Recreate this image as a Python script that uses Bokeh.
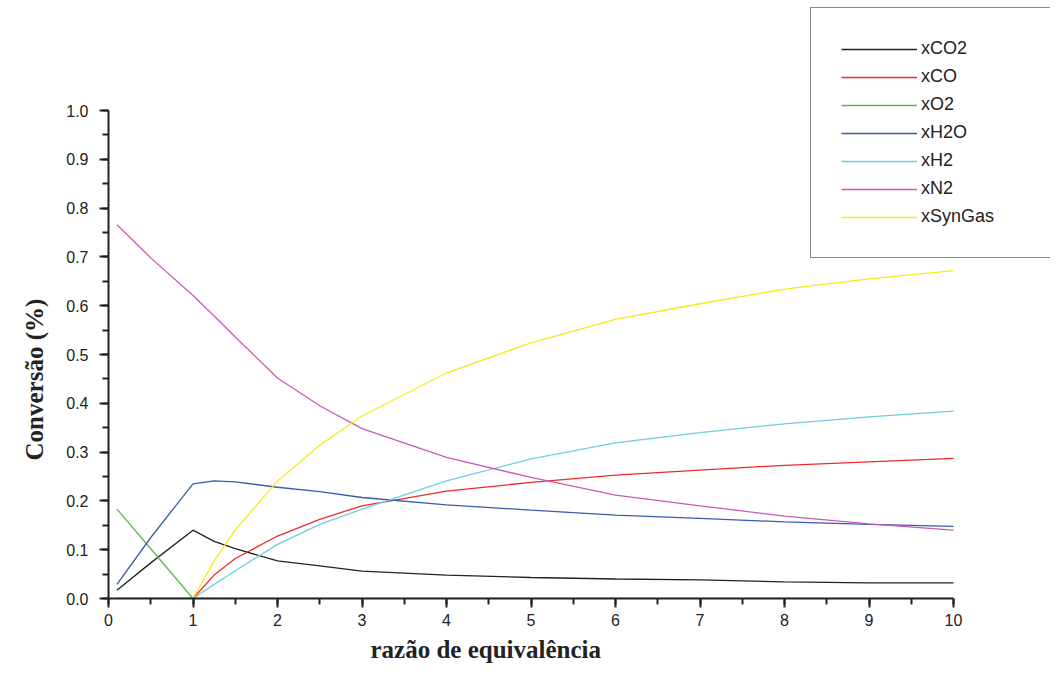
from bokeh.plotting import figure
from bokeh.models import Legend, LegendItem, SingleIntervalTicker, PrintfTickFormatter, Range1d, Title
from bokeh.embed import file_html
from bokeh.resources import INLINE

x = [0.1, 0.5, 1.0, 1.25, 1.5, 2.0, 2.5, 3.0, 4.0, 5.0, 6.0, 7.0, 8.0, 9.0, 10.0]
xCO2 = [0.017, 0.073, 0.140, 0.117, 0.102, 0.077, 0.067, 0.056, 0.048, 0.043, 0.040, 0.038, 0.034, 0.032, 0.032]
xCO = [0.0, 0.0, 0.0, 0.048, 0.082, 0.128, 0.162, 0.190, 0.220, 0.238, 0.253, 0.263, 0.273, 0.280, 0.287]
xO2 = [0.183, 0.102, 0.0, 0.0, 0.0, 0.0, 0.0, 0.0, 0.0, 0.0, 0.0, 0.0, 0.0, 0.0, 0.0]
xH2O = [0.029, 0.125, 0.235, 0.241, 0.239, 0.228, 0.219, 0.207, 0.192, 0.181, 0.171, 0.164, 0.157, 0.152, 0.148]
xH2 = [0.0, 0.0, 0.0, 0.029, 0.057, 0.111, 0.152, 0.183, 0.241, 0.286, 0.319, 0.340, 0.358, 0.372, 0.384]
xN2 = [0.766, 0.698, 0.621, 0.579, 0.536, 0.452, 0.395, 0.348, 0.289, 0.248, 0.212, 0.190, 0.169, 0.153, 0.140]
xSynGas = [0.0, 0.0, 0.0, 0.077, 0.140, 0.241, 0.314, 0.374, 0.462, 0.524, 0.572, 0.604, 0.634, 0.655, 0.672]

names = ["xCO2", "xCO", "xO2", "xH2O", "xH2", "xN2", "xSynGas"]
series = [xCO2, xCO, xO2, xH2O, xH2, xN2, xSynGas]
colors = ["#222222", "#ee2a2a", "#5cb848", "#3a5aad", "#70cde0", "#c95ab8", "#f8e81a"]

W, H = 1050, 667
LEFT, BOTTOM_PX = 108, 598          # frame left edge, y=0 position
X_PX_PER_UNIT, Y_PX_PER_UNIT = 84.5, 488.0

p = figure(width=W, height=H, output_backend="svg", toolbar_location=None,
           x_range=Range1d(0, (W - LEFT) / X_PX_PER_UNIT),
           y_range=Range1d(0, BOTTOM_PX / Y_PX_PER_UNIT),
           min_border_left=LEFT, min_border_right=0, min_border_top=0,
           min_border_bottom=H - BOTTOM_PX)
p.outline_line_color = None
p.grid.visible = False
p.background_fill_color = "white"

items = []
for n, s, c in zip(names, series, colors):
    r = p.line(x, s, line_color=c, line_width=1.3)
    items.append(LegendItem(label=n, renderers=[r]))

legend = Legend(items=items, location=(702, 340), border_line_color="#111111", border_line_width=1.5,
                padding=30, spacing=7, label_height=20, glyph_height=20, glyph_width=76,
                label_width=106, label_standoff=4, label_text_font="Liberation Sans",
                label_text_font_size="18px", label_text_color="#222222", background_fill_alpha=1.0,
                margin=0)
p.add_layout(legend, "center")

p.xaxis.ticker = SingleIntervalTicker(interval=1, num_minor_ticks=2)
p.yaxis.ticker = SingleIntervalTicker(interval=0.1, num_minor_ticks=2)
p.yaxis.formatter = PrintfTickFormatter(format="%.1f")
p.xaxis.formatter = PrintfTickFormatter(format="%d")
p.xaxis.bounds = (0, 10)
p.yaxis.bounds = (0, 1)

for ax in (p.xaxis, p.yaxis):
    ax.axis_line_color = "#222222"
    ax.axis_line_width = 2
    ax.major_tick_line_color = "#222222"
    ax.major_tick_line_width = 2
    ax.minor_tick_line_color = "#222222"
    ax.minor_tick_line_width = 2
    ax.major_tick_in = 0
    ax.major_tick_out = 9
    ax.minor_tick_in = 0
    ax.minor_tick_out = 6
    ax.major_label_text_font = "Liberation Sans"
    ax.major_label_text_font_size = "16px"
    ax.major_label_text_color = "#222222"

p.xaxis.major_label_standoff = 6
p.yaxis.major_label_standoff = 11

xlabel = Title(text="razão de equivalência", align="left", offset=262, standoff=10,
               text_font="Liberation Serif", text_font_style="bold", text_font_size="25px",
               text_color="#222222")
ylabel = Title(text="Conversão (%)", align="left", offset=138, standoff=32,
               text_font="Liberation Serif", text_font_style="bold", text_font_size="25px",
               text_color="#222222")
p.add_layout(xlabel, "below")
p.add_layout(ylabel, "left")

open("out.html", "w").write(file_html(p, INLINE))
